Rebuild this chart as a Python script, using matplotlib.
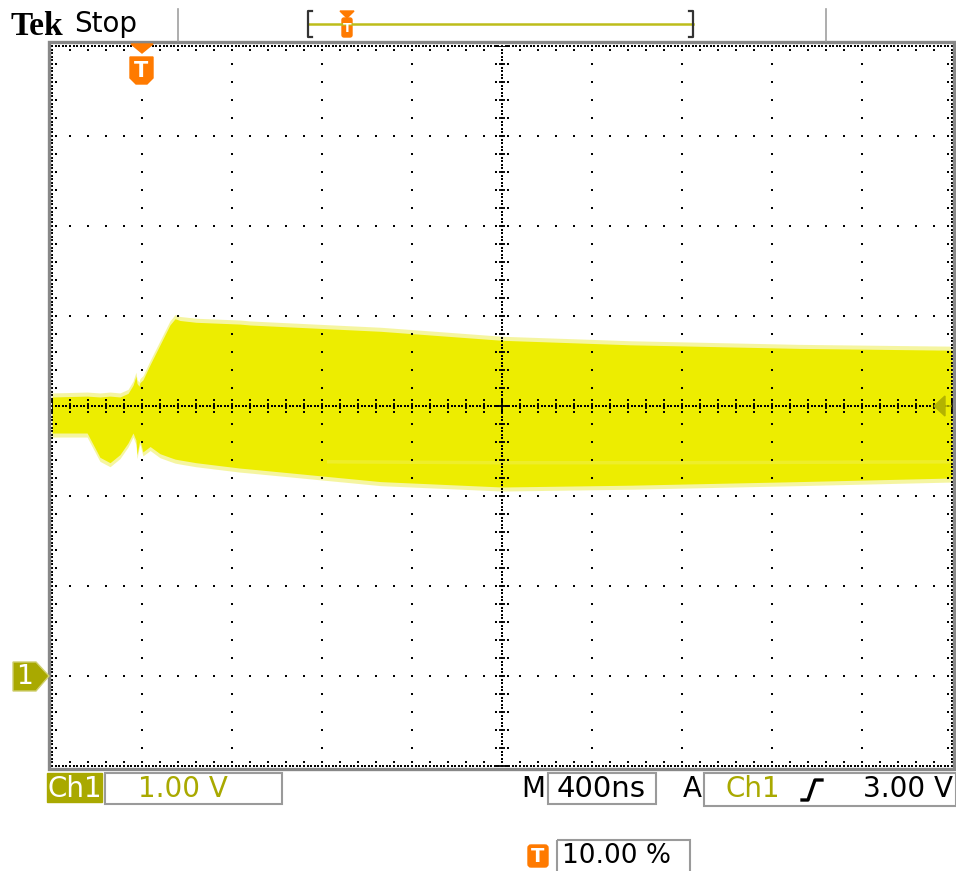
import numpy as np
import matplotlib
matplotlib.use("Agg")
import matplotlib.pyplot as plt
from matplotlib.patches import Polygon, Rectangle, FancyBboxPatch

# ─────────────────────────────────────────────
# DATA  (time in ns, Ch1 in volts, 400 ns/div, 1 V/div)
# ─────────────────────────────────────────────
t_ns = [-400, -244, -187, -142, -98, -62, -40, -27, -22, -13, -9, 4, 36,
        80, 124, 147, 169, 240, 436, 480, 1060, 1600, 2170, 2920, 3600]
v_upper = [3.10, 3.11, 3.10, 3.11, 3.10, 3.14, 3.23, 3.33, 3.25, 3.22, 3.26,
           3.29, 3.46, 3.68, 3.90, 3.97, 3.95, 3.93, 3.91, 3.90, 3.83, 3.73,
           3.68, 3.64, 3.62]
v_lower = [2.70, 2.70, 2.43, 2.37, 2.46, 2.59, 2.70, 2.62, 2.46, 2.58, 2.62,
           2.49, 2.55, 2.47, 2.43, 2.41, 2.40, 2.37, 2.31, 2.30, 2.16, 2.10,
           2.12, 2.16, 2.20]

# lighter streak inside the envelope
band_t = [830, 1600, 2400, 3600]
band_v = [2.38, 2.37, 2.37, 2.38]

t_min, t_max = -400, 3600      # 10 div
v_min, v_max = -1, 7           # 8 div
ch1_gnd = 0.0                  # marker "1"
trig_level = 3.0
trig_t = 0.0

ch1_scale = "1.00 V"
timebase = "400ns"
trig_src = "Ch1"
trig_val = "3.00 V"
trig_pos = "10.00 %"

YELLOW = "#EDED00"
OLIVE = "#A9A900"
ORANGE = "#FF7A00"
GRAY = "#9A9A9A"

W, H = 956, 871
fig = plt.figure(figsize=(W / 100, H / 100), dpi=100, facecolor="white")

# ─────────────────────────────────────────────
# GRATICULE + TRACE
# ─────────────────────────────────────────────
gx0, gx1, gy0, gy1 = 52, 952, 46, 766
ax = fig.add_axes([gx0 / W, (H - gy1) / H, (gx1 - gx0) / W, (gy1 - gy0) / H])
ax.set_xlim(t_min, t_max)
ax.set_ylim(v_min, v_max)
ax.axis("off")

# noisy fringe, then the solid envelope
fringe = 0.045
ax.fill_between(t_ns, np.array(v_lower) - fringe, np.array(v_upper) + fringe,
                color="#EEEE55", alpha=0.55, lw=0, zorder=1)
ax.fill_between(t_ns, v_lower, v_upper, color=YELLOW, lw=0, zorder=2)
ax.plot(band_t, band_v, color="#F2F27A", lw=2.5, alpha=0.35, zorder=2)

tdiv = (t_max - t_min) / 10
vdiv = (v_max - v_min) / 8
t_c = (t_min + t_max) / 2
v_c = (v_min + v_max) / 2
dot = dict(ls="none", marker="s", ms=1.5, color="black", mew=0, zorder=4, clip_on=False)

# major lines, dotted every 1/5 div
for k in range(1, 10):
    if k == 5:
        continue
    tk = t_min + k * tdiv
    vv = np.arange(v_min, v_max + 1e-9, vdiv / 5)
    ax.plot(np.full_like(vv, tk), vv, **dot)
for k in range(1, 8):
    if k == 4:
        continue
    vk = v_min + k * vdiv
    tt = np.arange(t_min, t_max + 1e-9, tdiv / 5)
    ax.plot(tt, np.full_like(tt, vk), **dot)

# centre cross + border: dense dots
tt_d = np.arange(t_min, t_max + 1e-9, tdiv / 25)
vv_d = np.arange(v_min, v_max + 1e-9, vdiv / 25)
for vk in (v_c, v_min, v_max):
    ax.plot(tt_d, np.full_like(tt_d, vk), **dot)
for tk in (t_c, t_min, t_max):
    ax.plot(np.full_like(vv_d, tk), vv_d, **dot)

# ticks on centre lines every 1/5 div
tt5 = np.arange(t_min, t_max + 1e-9, tdiv / 5)
vv5 = np.arange(v_min, v_max + 1e-9, vdiv / 5)
ax.plot(tt5, np.full_like(tt5, v_c), ls="none", marker="|", ms=5, mew=1.3,
        color="black", zorder=4)
ax.plot(np.full_like(vv5, t_c), vv5, ls="none", marker="_", ms=5, mew=1.3,
        color="black", zorder=4)
for off in (-0.065, 0.065):
    ax.plot(tt5, np.full_like(tt5, v_c + off * vdiv), **dot)
    ax.plot(np.full_like(vv5, t_c + off * tdiv), vv5, **dot)
# inward ticks on the border
for vk, s in ((v_min, 1), (v_max, -1)):
    ax.plot(tt5, np.full_like(tt5, vk + s * 0.045 * vdiv), **dot)
for tk, s in ((t_min, 1), (t_max, -1)):
    ax.plot(np.full_like(vv5, tk + s * 0.045 * tdiv), vv5, **dot)

# ─────────────────────────────────────────────
# SCREEN DECORATION (pixel overlay)
# ─────────────────────────────────────────────
ov = fig.add_axes([0, 0, 1, 1], zorder=5)
ov.set_xlim(0, W)
ov.set_ylim(H, 0)
ov.axis("off")
ov.patch.set_alpha(0)

# frame
ov.add_patch(Rectangle((49, 42.5), 905, 726, fill=False, ec="#888888", lw=2.4))

# top bar
ov.text(11, 35, "Tek", family="Liberation Serif", weight="bold", fontsize=24,
        va="baseline", ha="left")
ov.text(74, 32, "Stop", family="DejaVu Sans", fontsize=20, va="baseline", ha="left")
for xs in (178, 826):
    ov.plot([xs, xs], [9, 41], color="#A0A0A0", lw=1.2)

ov.plot([308, 693], [24, 24], color="#BDBD1A", lw=1.8)
ov.plot([312, 308, 308, 312], [11, 11, 37, 37], color="#333333", lw=1.6)
ov.plot([689, 693, 693, 689], [11, 11, 37, 37], color="#333333", lw=1.6)
ov.add_patch(Polygon([[340, 11], [354, 11], [347, 18]], color=ORANGE))
ov.add_patch(FancyBboxPatch((342, 18), 10, 19, boxstyle="round,pad=0,rounding_size=2",
                            color=ORANGE))
ov.text(347, 28, "T", color="white", fontsize=9, weight="bold", ha="center", va="center")

# trigger position marker
px_trig = gx0 + (trig_t - t_min) / (t_max - t_min) * (gx1 - gx0)
ov.add_patch(Polygon([[px_trig - 11, 44], [px_trig + 11, 44], [px_trig, 53]], color=ORANGE))
ov.add_patch(Polygon([[px_trig - 12, 57], [px_trig + 11, 57], [px_trig + 11, 78],
                      [px_trig + 5, 84], [px_trig - 6, 84], [px_trig - 12, 78]],
                     color=ORANGE))
ov.text(px_trig - 0.5, 71, "T", color="white", fontsize=15, weight="bold",
        ha="center", va="center")

# channel 1 ground marker
py_gnd = gy1 - (ch1_gnd - v_min) / (v_max - v_min) * (gy1 - gy0)
ov.add_patch(Polygon([[13, py_gnd - 14], [36, py_gnd - 14], [49, py_gnd],
                      [36, py_gnd + 15], [13, py_gnd + 15]],
                     fc=OLIVE, ec="#CFCF70", lw=1))
ov.text(25, py_gnd + 1, "1", color="white", fontsize=19, ha="center", va="center")

# trigger level arrow
py_trig = gy1 - (trig_level - v_min) / (v_max - v_min) * (gy1 - gy0)
ov.add_patch(Polygon([[934, py_trig], [945, py_trig - 10], [945, py_trig + 10]],
                     color="#B3B300"))
ov.plot([944, 951], [py_trig, py_trig], color="#B3B300", lw=1.2)

# bottom readouts
ov.add_patch(Rectangle((47, 773), 55, 29, color=OLIVE))
ov.text(74.5, 788.5, "Ch1", color="white", fontsize=20, ha="center", va="center")
ov.add_patch(Rectangle((105, 773), 177, 31, fill=False, ec=GRAY, lw=1.5))
ov.text(183, 788.5, ch1_scale, color=OLIVE, fontsize=20, ha="center", va="center")

ov.text(533, 788.5, "M", fontsize=20, ha="center", va="center")
ov.add_patch(Rectangle((548, 773), 108, 31, fill=False, ec=GRAY, lw=1.5))
ov.text(601.5, 788.5, timebase, fontsize=21, ha="center", va="center")

ov.text(692, 788.5, "A", fontsize=20, ha="center", va="center")
ov.add_patch(Rectangle((704, 773), 252, 33, fill=False, ec=GRAY, lw=1.5))
ov.text(753, 788.5, trig_src, color=OLIVE, fontsize=20, ha="center", va="center")
ov.plot([802, 808, 815, 822], [800, 800, 780, 780], color="black", lw=2.4)
ov.text(953, 788.5, trig_val, fontsize=20, ha="right", va="center")

ov.add_patch(FancyBboxPatch((528, 845), 20, 22, boxstyle="round,pad=0,rounding_size=3",
                            color=ORANGE))
ov.text(538, 856.5, "T", color="white", fontsize=14, weight="bold",
        ha="center", va="center")
ov.add_patch(Rectangle((557, 840), 133, 40, fill=False, ec=GRAY, lw=1.5))
ov.text(562, 856, trig_pos, fontsize=19, ha="left", va="center")

fig.savefig("out.png", dpi=100, facecolor="white")
